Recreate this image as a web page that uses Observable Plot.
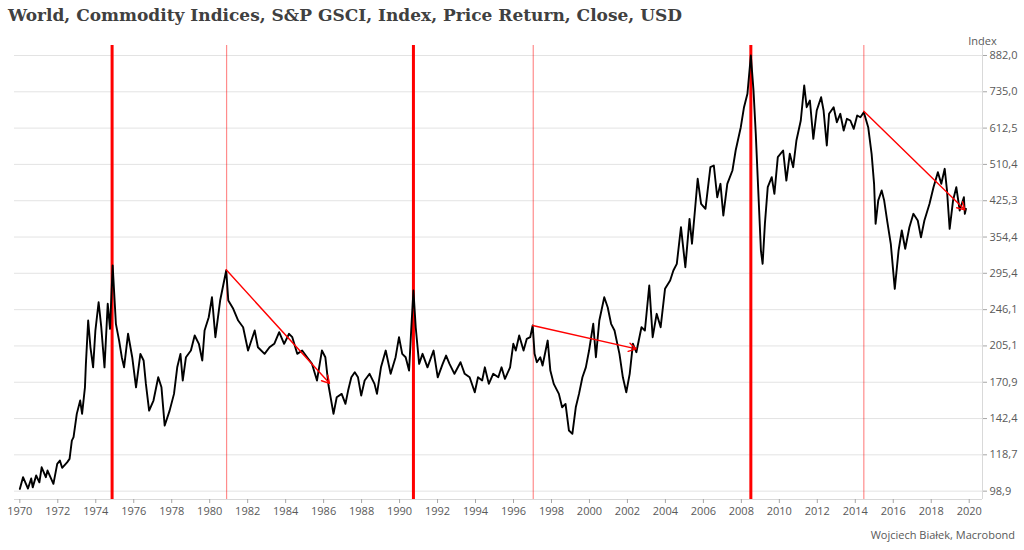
<!DOCTYPE html>
<html><head><meta charset="utf-8">
<script src="https://cdn.jsdelivr.net/npm/d3@7"></script>
<script src="https://cdn.jsdelivr.net/npm/@observablehq/plot@0.6"></script>
<style>
body{margin:0;background:#fff;width:1024px;height:550px;overflow:hidden;font-family:"Open Sans",sans-serif;position:relative}
#title{position:absolute;left:8px;top:5px;font-family:"DejaVu Serif",serif;font-weight:bold;font-size:17px;color:#404040;white-space:nowrap}
#chart{position:absolute;left:0;top:28px}
#caption{position:absolute;right:9px;top:527px;font-size:11px;color:#595959;white-space:nowrap}
</style></head><body>
<div id="title">World, Commodity Indices, S&amp;P GSCI, Index, Price Return, Close, USD</div>
<div id="chart"></div>
<div id="caption">Wojciech Białek, Macrobond</div>
<script>
const years = [1970.00,1970.17,1970.43,1970.60,1970.68,1970.86,1971.03,1971.15,1971.37,1971.46,1971.77,1971.97,1972.11,1972.23,1972.49,1972.62,1972.74,1972.83,1973.00,1973.18,1973.28,1973.43,1973.48,1973.60,1973.72,1973.86,1973.98,1974.15,1974.29,1974.46,1974.63,1974.75,1974.89,1975.06,1975.23,1975.37,1975.49,1975.70,1975.92,1976.12,1976.35,1976.52,1976.64,1976.81,1977.04,1977.29,1977.46,1977.63,1977.89,1978.12,1978.29,1978.46,1978.58,1978.75,1979.01,1979.21,1979.43,1979.61,1979.73,1979.95,
1980.12,1980.30,1980.55,1980.87,1980.98,1981.24,1981.50,1981.76,1982.02,1982.37,1982.54,1982.89,1983.15,1983.40,1983.66,1983.92,1984.18,1984.35,1984.61,1984.87,1985.13,1985.39,1985.65,1985.91,1986.09,1986.26,1986.52,1986.69,1986.95,1987.15,1987.29,1987.46,1987.64,1987.81,1987.98,1988.16,1988.42,1988.68,1988.81,1989.02,1989.27,1989.53,1989.79,
1989.97,1990.14,1990.32,1990.50,1990.62,1990.73,1990.85,1991.03,1991.21,1991.47,1991.79,1992.01,1992.27,1992.45,1992.63,1992.89,1993.21,1993.43,1993.69,1993.96,1994.13,1994.35,1994.49,1994.70,1994.93,1995.20,1995.37,1995.55,1995.82,1995.99,1996.12,1996.30,1996.53,1996.70,1996.88,1997.01,1997.11,1997.23,1997.41,1997.53,1997.80,1997.94,1998.12,1998.39,1998.56,1998.74,1998.92,1999.10,1999.28,1999.45,1999.63,1999.81,
1999.98,2000.20,2000.34,2000.52,2000.78,2000.96,2001.14,2001.32,2001.58,2001.76,2001.94,2002.12,2002.29,2002.47,2002.74,2002.92,2003.15,2003.33,2003.54,2003.75,2003.98,2004.25,2004.42,2004.60,2004.82,2005.05,2005.27,2005.40,2005.57,2005.70,2005.88,2006.11,2006.37,2006.55,2006.73,2006.90,2007.05,2007.26,2007.53,2007.70,2007.97,2008.14,2008.32,2008.50,2008.64,2008.76,2008.89,2009.03,2009.12,2009.24,2009.39,2009.60,2009.74,2009.92,
2010.20,2010.37,2010.55,2010.73,2010.90,2011.13,2011.31,2011.44,2011.61,2011.79,2011.97,2012.20,2012.33,2012.50,2012.62,2012.86,2013.03,2013.21,2013.39,2013.56,2013.74,2013.92,2014.10,2014.27,2014.45,2014.68,2014.86,2014.99,2015.07,2015.21,2015.39,2015.52,2015.69,2015.87,2016.08,2016.28,2016.45,2016.63,2016.85,2017.06,2017.29,2017.46,2017.64,2017.91,2018.12,2018.35,2018.53,2018.71,2018.83,2018.97,2019.15,2019.32,2019.50,2019.72,2019.77,2019.83];

const values = [100.0,106.1,100.2,105.4,100.8,107.0,103.4,111.5,106.1,109.7,102.6,113.4,115.3,111.2,114.3,116.3,127.5,129.7,145.8,155.9,145.8,166.6,187.4,233.0,203.7,184.2,221.6,255.4,225.3,184.2,253.4,223.5,307.2,229.2,210.7,193.8,184.2,218.0,193.8,166.6,197.1,190.6,169.5,148.2,155.9,175.2,166.6,137.5,148.2,161.2,184.2,197.1,172.4,193.8,200.4,216.1,207.3,190.6,221.6,236.9,
261.9,214.3,257.6,299.6,257.6,247.1,233.0,225.3,200.4,221.6,203.7,197.1,203.7,207.3,219.7,207.3,218.0,214.3,197.1,200.4,193.8,187.4,172.4,200.4,193.8,168.1,145.8,158.5,161.2,153.3,163.9,175.2,179.7,175.2,159.8,172.4,178.3,169.5,161.2,184.2,200.4,178.3,193.8,
214.3,197.1,193.8,181.2,225.3,270.9,225.3,187.4,197.1,184.2,200.4,175.2,187.4,195.4,187.4,178.3,189.0,178.3,175.2,162.5,175.2,172.4,184.2,169.5,178.3,175.2,184.2,173.8,184.2,207.3,200.4,216.1,200.4,212.5,214.3,227.2,197.1,189.0,193.8,185.9,210.7,181.2,169.5,161.2,150.7,153.3,134.1,131.9,150.7,161.2,175.2,184.2,
200.4,229.2,193.8,233.0,261.9,249.1,229.2,221.6,197.1,175.2,162.5,178.3,207.3,198.7,225.3,221.6,277.8,214.3,241.0,225.3,273.2,284.8,299.6,309.8,372.3,304.6,388.3,342.6,411.6,474.8,418.7,408.3,503.3,507.6,432.8,463.0,394.8,463.0,495.0,547.3,615.3,680.3,727.7,882.0,739.8,595.1,447.7,331.2,309.8,378.7,455.2,478.6,440.3,529.2,
547.3,470.7,538.3,503.3,575.5,636.3,758.7,680.3,703.6,580.4,669.1,715.3,669.1,561.3,658.1,680.3,630.9,658.1,605.2,641.8,636.3,610.3,652.5,646.9,663.5,615.3,538.3,463.0,378.7,426.0,447.7,426.0,381.8,342.6,273.2,331.2,366.2,334.1,372.3,398.2,385.0,354.0,385.0,418.7,455.2,490.8,463.0,499.2,447.7,369.3,426.0,455.2,404.9,432.8,398.2,408.3];

const thickEvents = [1974.86, 1990.73, 2008.50];
const thinEvents = [1980.89, 1997.04, 2014.45];
const arrowFromYear = [1980.87, 1997.01, 2014.45];
const arrowFromValue = [300.6, 227.2, 666.8];
const arrowToYear = [1986.31, 2002.46, 2019.77];
const arrowToValue = [170.0, 202.1, 406.3];
const yTicks = [98.9, 118.7, 142.4, 170.9, 205.1, 246.1, 295.4, 354.4, 425.3, 510.4, 612.5, 735.0, 882.0];
const xTicks = [1970,1972,1974,1976,1978,1980,1982,1984,1986,1988,1990,1992,1994,1996,1998,2000,2002,2004,2006,2008,2010,2012,2014,2016,2018,2020];
const yLabel = "Index";

const series = years.map((y, i) => ({year: y, value: values[i]}));
const arrows = arrowFromYear.map((y, i) => ({x1: y, y1: arrowFromValue[i], x2: arrowToYear[i], y2: arrowToValue[i]}));

const xDomain = [1969.72, 2020.70];
const yDomain = [94.84, 927.4];

const chart = Plot.plot({
  width: 1024, height: 500,
  marginLeft: 14, marginRight: 42, marginTop: 17, marginBottom: 29,
  style: {fontFamily: "'Open Sans', sans-serif", fontSize: "11px", color: "#595959", background: "white"},
  x: {domain: xDomain},
  y: {type: "log", domain: yDomain},
  marks: [
    Plot.gridY(yTicks, {stroke: "#e3e3e3", strokeOpacity: 1, strokeWidth: 1}),
    Plot.ruleY([yDomain[0]], {stroke: "#d9d9d9"}),
    Plot.ruleX([xDomain[1]], {stroke: "#d9d9d9"}),
    Plot.axisX({ticks: xTicks, tickFormat: d => String(d), tickSize: 4, tickPadding: 4, stroke: "#a6a6a6", fill: "#595959", label: null}),
    Plot.axisY({ticks: yTicks, anchor: "right", tickFormat: d => d.toFixed(1).replace(".", ","), tickSize: 4, tickPadding: 3, stroke: "#a6a6a6", fill: "#595959", label: null}),
    Plot.text([yLabel], {text: d => d, frameAnchor: "top-right", dy: -8, textAnchor: "middle", fill: "#595959"}),
    Plot.ruleX(thinEvents, {stroke: "#ff0000", strokeOpacity: 0.45, strokeWidth: 1.2}),
    Plot.ruleX(thickEvents, {stroke: "#ff0000", strokeWidth: 3}),
    Plot.line(series, {x: "year", y: "value", stroke: "#000", strokeWidth: 1.9, curve: "linear"}),
    Plot.arrow(arrows, {x1: "x1", y1: "y1", x2: "x2", y2: "y2", stroke: "#ff0000", strokeWidth: 1.4, headLength: 9, bend: 0})
  ]
});
document.getElementById("chart").appendChild(chart);
</script>
</body></html>
